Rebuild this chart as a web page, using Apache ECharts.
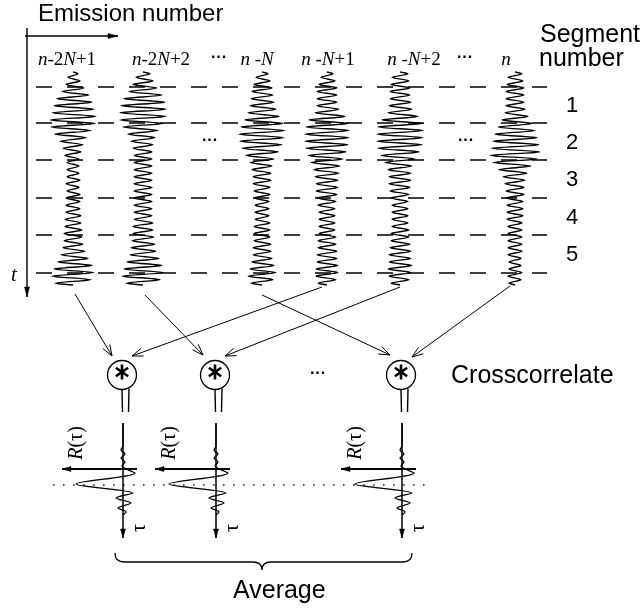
<!DOCTYPE html>
<html>
<head>
<meta charset="utf-8">
<title>Segment crosscorrelation</title>
<script src="https://cdn.jsdelivr.net/npm/echarts@6/dist/echarts.min.js"></script>
<style>
  html, body { margin: 0; padding: 0; background: #fff; }
  #chart { width: 643px; height: 612px; }
</style>
</head>
<body>
<div id="chart"></div>
<script>
// emission columns, left to right
var emissionLabels = ['{i|n}-2{i|N}+1', '{i|n}-2{i|N}+2', '{i|n} -{i|N}', '{i|n} -{i|N}+1', '{i|n} -{i|N}+2', '{i|n}'];
var traceX = [73, 143, 262, 327, 400, 515];
var labelX = [67, 161, 257, 328, 414, 506];

// segment boundaries (t grows downward) and their numbers
var segmentLines = [87, 123, 160, 198, 235, 273];
var segmentNumbers = ['1', '2', '3', '4', '5'];

// half-width of each wiggle cycle, top to bottom
var amp1 = [5, 7, 11, 16, 19, 21, 23, 22, 18, 13, 10, 8, 6, 6, 6, 7, 6, 7, 7, 7, 8, 8, 9, 9, 10, 12, 15, 19, 21, 18];
var amp2 = [7, 10, 14, 19, 22, 23, 23, 20, 15, 12, 10, 9, 9, 9, 9, 9, 9, 9, 9, 9, 9, 10, 10, 11, 12, 13, 16, 19, 21, 17];
var amp3 = [6, 8, 10, 11, 12, 14, 17, 21, 23, 22, 20, 16, 12, 10, 9, 9, 8, 8, 7, 7, 7, 8, 8, 8, 9, 9, 10, 12, 14, 11];
var amp4 = [6, 8, 10, 10, 10, 12, 18, 21, 22, 22, 21, 19, 16, 13, 12, 11, 11, 10, 9, 8, 8, 8, 8, 9, 9, 10, 10, 11, 11, 9];
var amp5 = [8, 9, 10, 10, 11, 12, 18, 22, 23, 23, 22, 19, 15, 12, 11, 11, 10, 9, 8, 8, 8, 8, 9, 9, 10, 11, 11, 12, 11, 9];
var amp6 = [7, 8, 9, 9, 9, 10, 13, 17, 20, 22, 24, 25, 22, 16, 12, 10, 9, 9, 8, 8, 8, 7, 7, 7, 7, 7, 6, 6, 7, 6];
var traceAmps = [amp1, amp2, amp3, amp4, amp5, amp6];

// trace -> crosscorrelator arrows [x1, y1, x2, y2]
var feedArrows = [
  [75, 294, 112, 356],
  [145, 295, 203, 355],
  [262, 295, 390, 355],
  [322, 287, 132, 356],
  [400, 287, 225, 356],
  [510, 286, 412, 357]
];
var correlatorX = [122, 215, 401];

// correlation trace R(tau): [offset, tau]
var corrShape = [[0, 423], [0, 446], [-2, 450], [2, 454], [-2, 458], [2, 462], [-1, 466], [12, 473],
  [-47, 484], [10, 493], [-7, 498], [8, 503], [-5, 508], [3, 512], [0, 515]];

var SANS = '"Liberation Sans", Arial, Helvetica, sans-serif';
var SERIF = '"Liberation Serif", "Times New Roman", serif';
var INK = '#000';

function wigglePoints(cx, amps) {
  var top = 72, bottom = 285;
  var step = (bottom - top) / amps.length;
  var pts = [[cx, top]];
  amps.forEach(function (a, i) {
    pts.push([cx + a, top + (i + 0.25) * step]);
    pts.push([cx - a, top + (i + 0.75) * step]);
  });
  pts.push([cx, bottom]);
  return pts;
}

function arrowHead(p1, p2, len, half, filled, width) {
  var dx = p2[0] - p1[0], dy = p2[1] - p1[1];
  var d = Math.sqrt(dx * dx + dy * dy);
  var ux = dx / d, uy = dy / d, nx = -uy, ny = ux;
  var bx = p2[0] - ux * len, by = p2[1] - uy * len;
  var pts = [[bx + nx * half, by + ny * half], p2, [bx - nx * half, by - ny * half]];
  if (filled) {
    return { type: 'polygon', shape: { points: pts }, style: { fill: INK, stroke: INK, lineWidth: 0.5 } };
  }
  return { type: 'polyline', shape: { points: pts }, style: { fill: null, stroke: INK, lineWidth: width } };
}

// arrows: [x1, y1, x2, y2, filled(0/1), lineWidth, headLen, headHalf]
var axisArrows = [
  [25, 36, 118, 36, 1, 1.4, 10, 2.5],
  [27, 28, 27, 297, 1, 1.4, 10, 2.5]
];
correlatorX.forEach(function (x) {
  axisArrows.push([x + 1, 423, x + 1, 538, 1, 1.5, 9, 2.5]);
  axisArrows.push([x + 15, 469, x - 60, 469, 1, 1.8, 9, 2.5]);
});
feedArrows.forEach(function (a) {
  axisArrows.push([a[0], a[1], a[2], a[3], 0, 1, 11, 4]);
});

// text items
var texts = [
  { t: 'Emission number', x: 38, y: 14, size: 24, align: 'left' },
  { t: '···', x: 219, y: 58, size: 16, bold: true },
  { t: '···', x: 465, y: 58, size: 16, bold: true },
  { t: 'Segment', x: 540, y: 35, size: 25, align: 'left' },
  { t: 'number', x: 539, y: 59, size: 25, align: 'left' },
  { t: 't', x: 14, y: 275, size: 21, serif: true, italic: true },
  { t: '···', x: 210, y: 141, size: 16, bold: true },
  { t: '···', x: 466, y: 141, size: 16, bold: true },
  { t: '···', x: 318, y: 374, size: 16, bold: true },
  { t: 'Crosscorrelate', x: 451, y: 376, size: 25, align: 'left' },
  { t: 'Average', x: 233, y: 591, size: 25, align: 'left' }
];
emissionLabels.forEach(function (l, i) {
  texts.push({ t: l, x: labelX[i], y: 60, size: 19, serif: true });
});
segmentNumbers.forEach(function (n, i) {
  texts.push({ t: n, x: 572, y: (segmentLines[i] + segmentLines[i + 1]) / 2 + 1, size: 22 });
});
correlatorX.forEach(function (x) {
  texts.push({ t: '{i|R}(τ)', x: x - 45, y: 443, size: 20, serif: true, rot: 90 });
  texts.push({ t: 'τ', x: x + 18, y: 528, size: 20, serif: true, rot: 90 });
});

var series = [];

segmentLines.forEach(function (y) {
  series.push({
    type: 'line', data: [[36, y], [547, y]], showSymbol: false, silent: true,
    lineStyle: { color: INK, width: 1.6, type: [16, 15] }
  });
});

traceAmps.forEach(function (amps, i) {
  series.push({
    type: 'line', data: wigglePoints(traceX[i], amps), showSymbol: false, smooth: 0.25, silent: true,
    lineStyle: { color: INK, width: 1.4 }
  });
});

// dotted zero-lag line
series.push({
  type: 'line', data: [[53, 485], [425, 485]], showSymbol: false, silent: true,
  lineStyle: { color: '#222', width: 1.6, type: [1.6, 8.4] }
});

correlatorX.forEach(function (x) {
  series.push({
    type: 'line', data: corrShape.map(function (p) { return [x + 1 + p[0], p[1]]; }),
    showSymbol: false, smooth: 0.3, silent: true, z: 3,
    lineStyle: { color: INK, width: 1.3 }
  });
});

series.push({
  type: 'custom', data: axisArrows, silent: true, z: 4,
  encode: { x: [0, 2], y: [1, 3] },
  renderItem: function (params, api) {
    var p1 = api.coord([api.value(0), api.value(1)]);
    var p2 = api.coord([api.value(2), api.value(3)]);
    var w = api.value(5);
    return {
      type: 'group', children: [
        { type: 'line', shape: { x1: p1[0], y1: p1[1], x2: p2[0], y2: p2[1] }, style: { stroke: INK, lineWidth: w } },
        arrowHead(p1, p2, api.value(6), api.value(7), api.value(4) === 1, w)
      ]
    };
  }
});

// crosscorrelators
series.push({
  type: 'custom', data: correlatorX.map(function (x) { return [x, 375]; }), silent: true, z: 5,
  renderItem: function (params, api) {
    var c = api.coord([api.value(0), api.value(1)]);
    var r = 14.5;
    var kids = [
      { type: 'circle', shape: { cx: c[0], cy: c[1], r: r }, style: { fill: '#fff', stroke: INK, lineWidth: 1.3 } },
      { type: 'line', shape: { x1: c[0], y1: c[1] + r, x2: c[0] + 0.5, y2: c[1] + 37 }, style: { stroke: INK, lineWidth: 1.4 } },
      { type: 'line', shape: { x1: c[0] + 7, y1: c[1] + r - 1, x2: c[0] + 6.5, y2: c[1] + 37 }, style: { stroke: INK, lineWidth: 1.4 } }
    ];
    [90, 35, -35].forEach(function (deg) {
      var a = deg * Math.PI / 180, k = 7.5, cy = c[1] - 3;
      kids.push({
        type: 'line',
        shape: { x1: c[0] - k * Math.cos(a), y1: cy - k * Math.sin(a), x2: c[0] + k * Math.cos(a), y2: cy + k * Math.sin(a) },
        style: { stroke: INK, lineWidth: 2.6 }
      });
    });
    return { type: 'group', children: kids };
  }
});

// brace under the correlations
series.push({
  type: 'custom', data: [[115, 412, 262, 553, 570]], silent: true,
  renderItem: function (params, api) {
    var L = api.value(0), R = api.value(1), T = api.value(2), y0 = api.value(3), y1 = api.value(4);
    var ym = y0 + 9;
    function P(x, y) { var p = api.coord([x, y]); return p[0] + ',' + p[1]; }
    var d = 'M' + P(L, y0) + ' Q' + P(L, ym) + ' ' + P(L + 9, ym) + ' L' + P(T - 9, ym) +
      ' Q' + P(T, ym) + ' ' + P(T, y1) + ' Q' + P(T, ym) + ' ' + P(T + 9, ym) +
      ' L' + P(R - 9, ym) + ' Q' + P(R, ym) + ' ' + P(R, y0);
    return { type: 'path', shape: { pathData: d }, style: { fill: null, stroke: INK, lineWidth: 1.3 } };
  }
});

// texts
series.push({
  type: 'custom', data: texts.map(function (d) { return [d.x, d.y]; }), silent: true, z: 6,
  renderItem: function (params, api) {
    var d = texts[params.dataIndex];
    var c = api.coord([api.value(0), api.value(1)]);
    var fam = d.serif ? SERIF : SANS;
    return {
      type: 'text', x: c[0], y: c[1], rotation: d.rot ? d.rot * Math.PI / 180 : 0,
      style: {
        text: d.t, fill: INK, fontSize: d.size, fontFamily: fam,
        fontStyle: d.italic ? 'italic' : 'normal', fontWeight: d.bold ? 'bold' : 'normal',
        align: d.align || 'center', verticalAlign: 'middle',
        rich: { i: { fontStyle: 'italic', fontSize: d.size, fontFamily: fam, fill: INK } }
      }
    };
  }
});

var chart = echarts.init(document.getElementById('chart'));
chart.setOption({
  animation: false,
  backgroundColor: '#fff',
  grid: { left: 0, right: 0, top: 0, bottom: 0 },
  xAxis: { type: 'value', min: 0, max: 643, show: false },
  yAxis: { type: 'value', min: 0, max: 612, inverse: true, show: false },
  series: series
});
</script>
</body>
</html>
